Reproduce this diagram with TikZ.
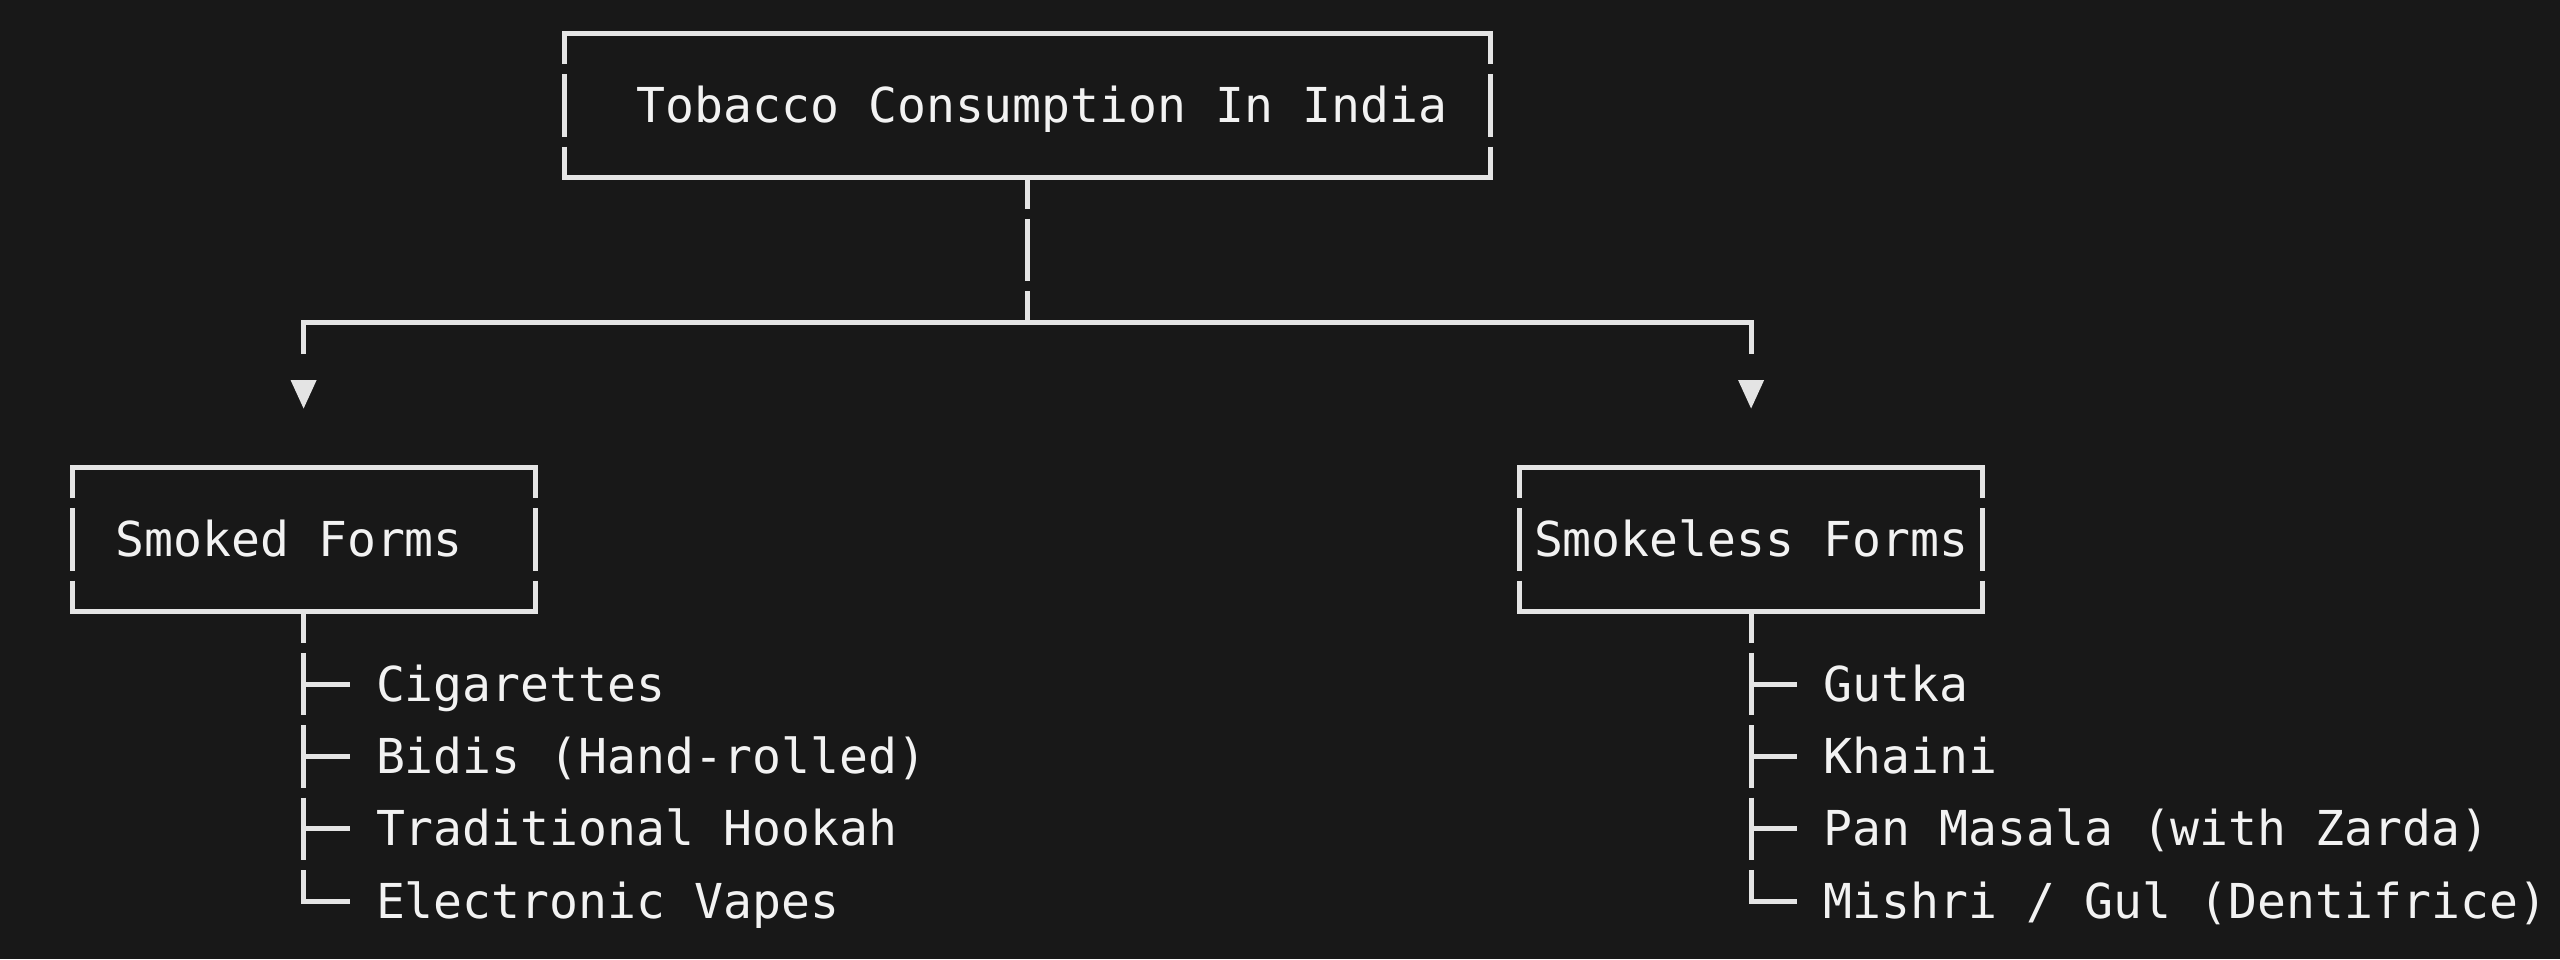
\documentclass[tikz,border=0pt]{standalone}
\usepackage{fontspec}
\usetikzlibrary{calc}
\newfontfamily\monofnt{DejaVu Sans Mono}
\definecolor{bg}{HTML}{181818}
\definecolor{ln}{HTML}{E4E4E4}
\definecolor{tx}{HTML}{F2F2F2}
\begin{document}
\begin{tikzpicture}[x=1pt,y=-1pt,
  lbl/.style={anchor=base west, inner sep=0pt, outer sep=0pt, text=tx,
    font=\monofnt\fontsize{48.1}{58}\selectfont},
  frame/.style={draw=none, rectangle, inner sep=0pt, outer sep=0pt,
    minimum width=463.2pt, minimum height=144.7pt},
  hline/.style={draw=ln, line width=5pt, line cap=rect},
  stub/.style={draw=ln, line width=5pt},
  vline/.style={draw=ln, line width=5pt, dash pattern=on 62.35pt off 10pt, dash phase=31.175pt},
  tip/.style={fill=ln, draw=none}
]
\fill[bg] (0,0) rectangle (2560,959);
\useasboundingbox (0,0) rectangle (2560,959);

% frames
\node[frame, minimum width=926.4pt] (top) at (1027.35,105.35) {};
\node[frame] (smk) at (303.6,539.45) {};
\node[frame] (sml) at (1751.1,539.45) {};

% frame outlines
\foreach \n in {top,smk,sml}{
  \draw[hline] (\n.north west) -- (\n.north east);
  \draw[hline] (\n.south west) -- (\n.south east);
  \draw[vline] (\n.north west) -- (\n.south west);
  \draw[vline] (\n.north east) -- (\n.south east);
}

% labels
\node[lbl] (ttop) at (636.5,122.35) {Tobacco Consumption In India};
\node[lbl] (tsmk) at (115.4,556.45) {Smoked Forms};
\node[lbl] (tsml) at (1534.0,556.45) {Smokeless Forms};

% main connector
\coordinate (junc) at (1027.35,322.4);
\coordinate (jl) at (303.6,322.4);
\coordinate (jr) at (1751.1,322.4);
\draw[vline] (top.south) -- (junc);
\draw[hline] (jl) -- (jr);
\draw[stub] (jl) -- ++(0,31.2);
\draw[stub] (jr) -- ++(0,31.2);
\fill[tip] ($(smk.north)+(-13,-87)$) -- ($(smk.north)+(13,-87)$) -- ($(smk.north)+(0,-58.6)$) -- cycle;
\fill[tip] ($(sml.north)+(-13,-87)$) -- ($(sml.north)+(13,-87)$) -- ($(sml.north)+(0,-58.6)$) -- cycle;

% left tree
\node[lbl] (a1) at (376.0,701.15) {Cigarettes};
\node[lbl] (a2) at (376.0,773.5) {Bidis (Hand-rolled)};
\node[lbl] (a3) at (376.0,845.85) {Traditional Hookah};
\node[lbl] (a4) at (376.0,918.2) {Electronic Vapes};
\coordinate (la) at (303.6,901.2);
\draw[vline] (smk.south) -- (la);
\foreach \y in {684.15,756.5,828.85,901.2}{
  \draw[hline] (303.6,\y) -- ++(43.4,0);
}

% right tree
\node[lbl] (b1) at (1823.5,701.15) {Gutka};
\node[lbl] (b2) at (1823.5,773.5) {Khaini};
\node[lbl] (b3) at (1823.5,845.85) {Pan Masala (with Zarda)};
\node[lbl] (b4) at (1823.5,918.2) {Mishri / Gul (Dentifrice)};
\coordinate (lb) at (1751.1,901.2);
\draw[vline] (sml.south) -- (lb);
\foreach \y in {684.15,756.5,828.85,901.2}{
  \draw[hline] (1751.1,\y) -- ++(43.4,0);
}
\end{tikzpicture}
\end{document}
